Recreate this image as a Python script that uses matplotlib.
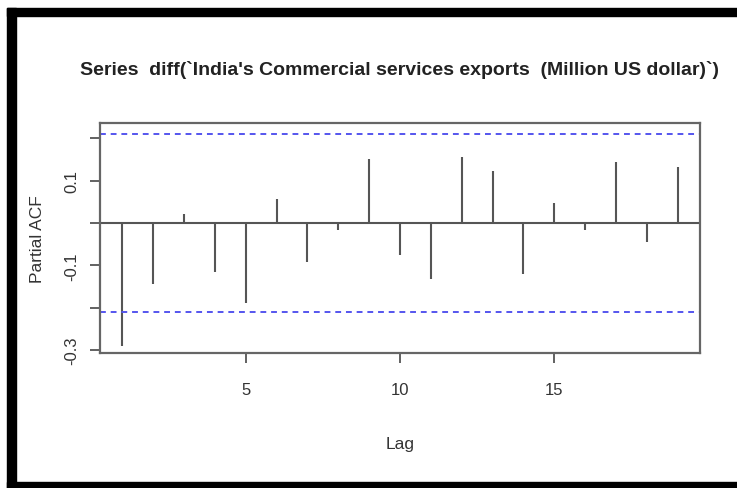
import matplotlib
matplotlib.use("Agg")
import matplotlib.pyplot as plt
from matplotlib.patches import Rectangle

# partial autocorrelations of the differenced export series, lags 1..19
lags = list(range(1, 20))
pacf = [-0.290, -0.143, 0.020, -0.115, -0.190, 0.057, -0.091, -0.017, 0.152,
        -0.075, -0.133, 0.155, 0.123, -0.121, 0.047, -0.017, 0.144, -0.046, 0.133]
ci = 0.211          # 2 / sqrt(n)
yticks = [-0.3, -0.2, -0.1, 0.0, 0.1, 0.2]
ytick_labels = ["-0.3", "", "-0.1", "", "0.1", ""]
xticks = [5, 10, 15]

plt.rcParams["font.family"] = ["Liberation Sans", "DejaVu Sans"]
INK = "#333333"

fig = plt.figure(figsize=(7.37, 4.89), dpi=100)
ax = fig.add_axes([100 / 737, 1 - 354 / 489, 600 / 737, 230 / 489])

ax.vlines(lags, 0, pacf, color="#555555", lw=1.5)
ax.axhline(0, color="#555555", lw=1.5)
for y in (ci, -ci):
    ax.axhline(y, color="#5555ee", lw=1.4, ls=(0, (3, 2.5)))

ax.set_xlim(0.28, 19.72)
ax.set_ylim(-0.307, 0.236)
ax.set_xticks(xticks)
ax.set_yticks(yticks)
ax.set_yticklabels(ytick_labels, rotation=90, va="center")
ax.tick_params(colors="#555555", labelcolor=INK, labelsize=12, length=7, width=1.3)
ax.tick_params(axis="x", pad=14)
ax.tick_params(axis="y", pad=8)
for s in ax.spines.values():
    s.set_color("#666666")
    s.set_linewidth(1.6)

ax.set_xlabel("Lag", fontsize=12.5, color=INK, labelpad=28)
ax.set_ylabel("Partial ACF", fontsize=12.5, color=INK, labelpad=14)
fig.text(400 / 737, 1 - 70 / 489,
         "Series  diff(`India's Commercial services exports  (Million US dollar)`)",
         ha="center", va="center", fontsize=14, fontweight="bold",
         color="#222222")

# screenshot frame: black band along the top, left and bottom edges
fig.patches.append(Rectangle((7 / 737, 1 - 17 / 489), 730 / 737, 8 / 489,
                             transform=fig.transFigure, color="black", zorder=5))
fig.patches.append(Rectangle((7 / 737, 0), 9 / 737, 1 - 9 / 489,
                             transform=fig.transFigure, color="black", zorder=5))
fig.patches.append(Rectangle((7 / 737, 0), 730 / 737, 6 / 489,
                             transform=fig.transFigure, color="black", zorder=5))

fig.savefig("out.png", dpi=100)
